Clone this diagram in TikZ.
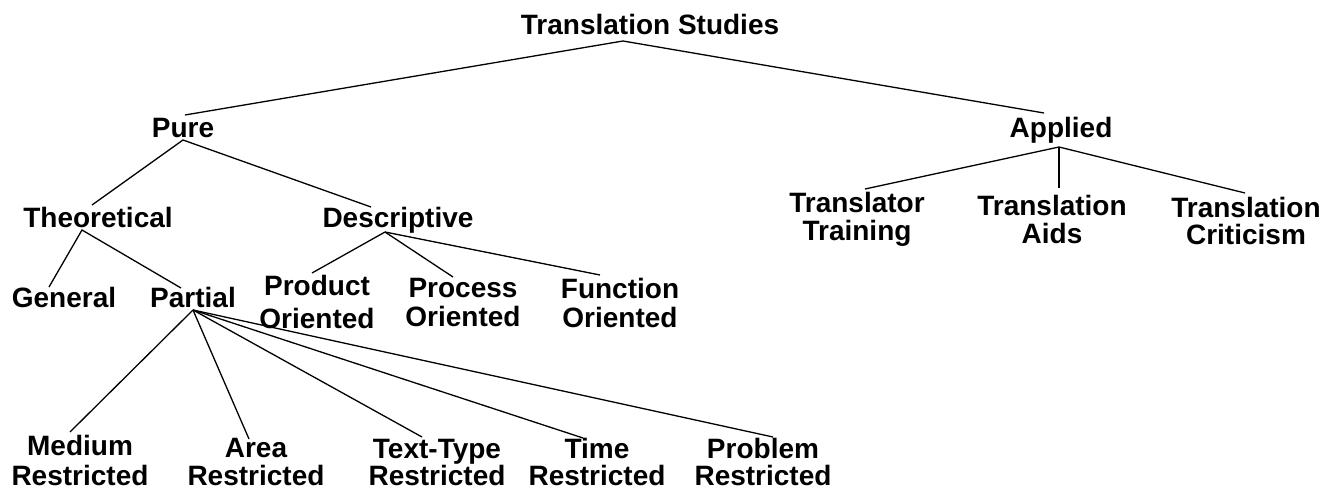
\documentclass[tikz,border=0pt]{standalone}
\usepackage{fontspec}
\setmainfont{Liberation Sans}
\usetikzlibrary{calc}
\newcommand\tlines[3]{\vtop{\baselineskip=#1\relax\lineskiplimit=-100pt\relax\halign{\hfil##\hfil\cr #2\cr #3\cr}}}
\begin{document}
\begin{tikzpicture}[x=1pt,y=-1pt,
  lbl/.style={anchor=base,inner sep=0pt,font=\fontsize{28}{31}\selectfont\bfseries},
  edge/.style={line width=1.3pt,black}]
\fill[white] (0,0) rectangle (1327,489);
\useasboundingbox (0,0) rectangle (1327,489);
% nodes
\node[lbl] (ts) at (650,35) {Translation Studies};
\node[lbl] (pure) at (183,138) {Pure};
\node[lbl] (applied) at (1061,138) {Applied};
\node[lbl] (theo) at (98,227) {Theoretical};
\node[lbl] (desc) at (398,227) {Descriptive};
\node[lbl] (general) at (64,307) {General};
\node[lbl] (partial) at (193,307) {Partial};
\node[lbl] (product) at (317,295) {\tlines{33pt}{Product}{Oriented}};
\node[lbl] (process) at (463,297) {\tlines{29pt}{Process}{Oriented}};
\node[lbl] (function) at (620,298) {\tlines{29pt}{Function}{Oriented}};
\node[lbl] (ttrain) at (857,212) {\tlines{28pt}{Translator}{Training}};
\node[lbl] (taids) at (1052,215) {\tlines{28pt}{Translation}{Aids}};
\node[lbl] (tcrit) at (1246,217) {\tlines{28pt}{Translation}{Criticism}};
\node[lbl] (medium) at (80,455) {\tlines{30pt}{Medium}{Restricted}};
\node[lbl] (area) at (256,457) {\tlines{28pt}{Area}{Restricted}};
\node[lbl] (texttype) at (437,458) {\tlines{27pt}{Text-Type}{Restricted}};
\node[lbl] (time) at (597,458) {\tlines{27pt}{Time}{Restricted}};
\node[lbl] (problem) at (763,458) {\tlines{27pt}{Problem}{Restricted}};
% connectors
\draw[edge] ($(pure.base)+(2,-23)$) -- ($(ts.base)+(-27,6)$) -- ($(applied.base)+(-17,-25)$);
\draw[edge] ($(theo.base)+(-6,-22)$) -- ($(pure.base)+(0,2)$) -- ($(desc.base)+(-27,-20)$);
\draw[edge] ($(general.base)+(-15,-20)$) -- ($(theo.base)+(-16,3)$) -- ($(partial.base)+(-12,-19)$);
\draw[edge] ($(desc.base)+(-13,5)$) -- ($(product.base)+(-5,-22)$);
\draw[edge] ($(desc.base)+(-13,5)$) -- ($(process.base)+(-10,-20)$);
\draw[edge] ($(desc.base)+(-13,5)$) -- ($(function.base)+(-20,-23)$);
\draw[edge] ($(partial.base)+(0,3)$) -- ($(medium.base)+(-10,-23)$);
\draw[edge] ($(partial.base)+(0,3)$) -- ($(area.base)+(-7,-18)$);
\draw[edge] ($(partial.base)+(0,3)$) -- ($(texttype.base)+(-15,-21)$);
\draw[edge] ($(partial.base)+(0,3)$) -- ($(time.base)+(-14,-20)$);
\draw[edge] ($(partial.base)+(0,3)$) -- ($(problem.base)+(10,-21)$);
\draw[edge] ($(applied.base)+(-2,9)$) -- ($(ttrain.base)+(8,-23)$);
\draw[edge] ($(applied.base)+(-2,9)$) -- ($(taids.base)+(7,-27)$);
\draw[edge] ($(applied.base)+(-2,9)$) -- ($(tcrit.base)+(-1,-24)$);
\end{tikzpicture}
\end{document}
